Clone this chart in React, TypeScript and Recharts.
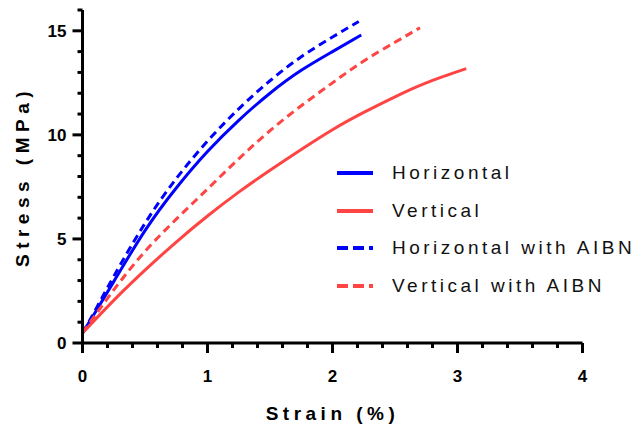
import { LineChart, Line, XAxis, YAxis } from "recharts";

// strain (%) / stress (MPa)
const horizontalStrain = [0, 0.1, 0.25, 0.5, 0.75, 1.0, 1.25, 1.5, 1.75, 2.0, 2.23];
const horizontalStress = [0.48, 1.45, 2.95, 5.4, 7.45, 9.2, 10.7, 12.0, 13.1, 14.0, 14.8];

const verticalStrain = [0, 0.25, 0.5, 0.75, 1.0, 1.25, 1.5, 1.75, 2.0, 2.25, 2.5, 2.75, 3.07];
const verticalStress = [0.48, 2.05, 3.5, 4.85, 6.1, 7.25, 8.3, 9.3, 10.25, 11.08, 11.83, 12.5, 13.18];

const horizontalAibnStrain = [0, 0.1, 0.25, 0.5, 0.75, 1.0, 1.25, 1.5, 1.75, 2.0, 2.21];
const horizontalAibnStress = [0.48, 1.55, 3.2, 5.75, 7.9, 9.7, 11.25, 12.6, 13.75, 14.7, 15.45];

const verticalAibnStrain = [0, 0.25, 0.5, 0.75, 1.0, 1.25, 1.5, 1.75, 2.0, 2.25, 2.5, 2.7];
const verticalAibnStress = [0.48, 2.55, 4.4, 5.95, 7.4, 8.85, 10.2, 11.4, 12.5, 13.55, 14.45, 15.15];

const xTicks = [0, 0.2, 0.4, 0.6, 0.8, 1, 1.2, 1.4, 1.6, 1.8, 2, 2.2, 2.4, 2.6, 2.8, 3, 3.2, 3.4, 3.6, 3.8, 4];
const xLabels = [0, 1, 2, 3, 4];
const yTicks = [0, 1, 2, 3, 4, 5, 6, 7, 8, 9, 10, 11, 12, 13, 14, 15, 16];
const yLabels = [0, 5, 10, 15];

const BLUE = "#0000ff";
const RED = "#ff4444";
const FONT = "'Liberation Sans', Arial, sans-serif";

const toPoints = (xs: number[], ys: number[]) => xs.map((x, i) => ({ x, y: ys[i] }));

const series = [
  { name: "Horizontal", data: toPoints(horizontalStrain, horizontalStress), color: BLUE, dash: undefined },
  { name: "Vertical", data: toPoints(verticalStrain, verticalStress), color: RED, dash: undefined },
  { name: "Horizontal with AIBN", data: toPoints(horizontalAibnStrain, horizontalAibnStress), color: BLUE, dash: "8 5" },
  { name: "Vertical with AIBN", data: toPoints(verticalAibnStrain, verticalAibnStress), color: RED, dash: "8 5" },
];

const XTick = ({ x, y, payload }: any) => {
  const major = xLabels.includes(payload.value);
  return (
    <g>
      <line x1={x} x2={x} y1={y} y2={y + (major ? 10 : 5)} stroke="#000" strokeWidth={3} />
      {major && (
        <text x={x} y={y + 39} textAnchor="middle" fontFamily={FONT} fontWeight="bold" fontSize={17} fill="#000">
          {payload.value}
        </text>
      )}
    </g>
  );
};

const YTick = ({ x, y, payload }: any) => {
  const major = yLabels.includes(payload.value);
  return (
    <g>
      <line x1={x} x2={x - (major ? 10 : 5)} y1={y} y2={y} stroke="#000" strokeWidth={3} />
      {major && (
        <text x={x - 16} y={y + 6} textAnchor="end" fontFamily={FONT} fontWeight="bold" fontSize={17} fill="#000">
          {payload.value}
        </text>
      )}
    </g>
  );
};

function LegendBox() {
  return (
    <div style={{ position: "absolute", left: 336, top: 154, fontFamily: FONT }}>
      {series.map((s) => (
        <div key={s.name} style={{ display: "flex", alignItems: "center", height: 37.7 }}>
          <svg width={40} height={10} style={{ marginRight: 16 }}>
            <line
              x1={1}
              x2={37}
              y1={5}
              y2={5}
              stroke={s.color}
              strokeWidth={4}
              strokeDasharray={s.dash ? "11 5" : undefined}
            />
          </svg>
          <span style={{ fontSize: 19, letterSpacing: 3.5, color: "#111", whiteSpace: "nowrap" }}>{s.name}</span>
        </div>
      ))}
    </div>
  );
}

export default function App() {
  return (
    <div style={{ position: "absolute", left: 0, top: 0, width: 640, height: 427, background: "#fff" }}>
      <LineChart width={640} height={427} margin={{ top: 10, right: 57.5, bottom: 0, left: 0 }}>
        <XAxis
          type="number"
          dataKey="x"
          domain={[0, 4]}
          ticks={xTicks}
          interval={0}
          tickSize={0}
          tickMargin={0}
          tick={<XTick />}
          height={84}
          axisLine={{ stroke: "#000", strokeWidth: 3 }}
          tickLine={false}
          label={{
            value: "Strain (%)",
            position: "insideBottom",
            offset: 7,
            style: { fontFamily: FONT, fontWeight: "bold", fontSize: 19, letterSpacing: 4.5, fill: "#000" },
          }}
        />
        <YAxis
          type="number"
          dataKey="y"
          domain={[0, 16]}
          ticks={yTicks}
          interval={0}
          tickSize={0}
          tickMargin={0}
          tick={<YTick />}
          width={82.5}
          axisLine={{ stroke: "#000", strokeWidth: 3 }}
          tickLine={false}
          label={{
            value: "Stress (MPa)",
            angle: -90,
            position: "insideLeft",
            offset: 22,
            style: { fontFamily: FONT, fontWeight: "bold", fontSize: 19, letterSpacing: 5.5, fill: "#000", textAnchor: "middle" },
          }}
        />
        {series.map((s) => (
          <Line
            key={s.name}
            name={s.name}
            data={s.data}
            dataKey="y"
            type="natural"
            stroke={s.color}
            strokeWidth={3}
            strokeDasharray={s.dash}
            dot={false}
            activeDot={false}
            isAnimationActive={false}
          />
        ))}
      </LineChart>
      <LegendBox />
    </div>
  );
}
